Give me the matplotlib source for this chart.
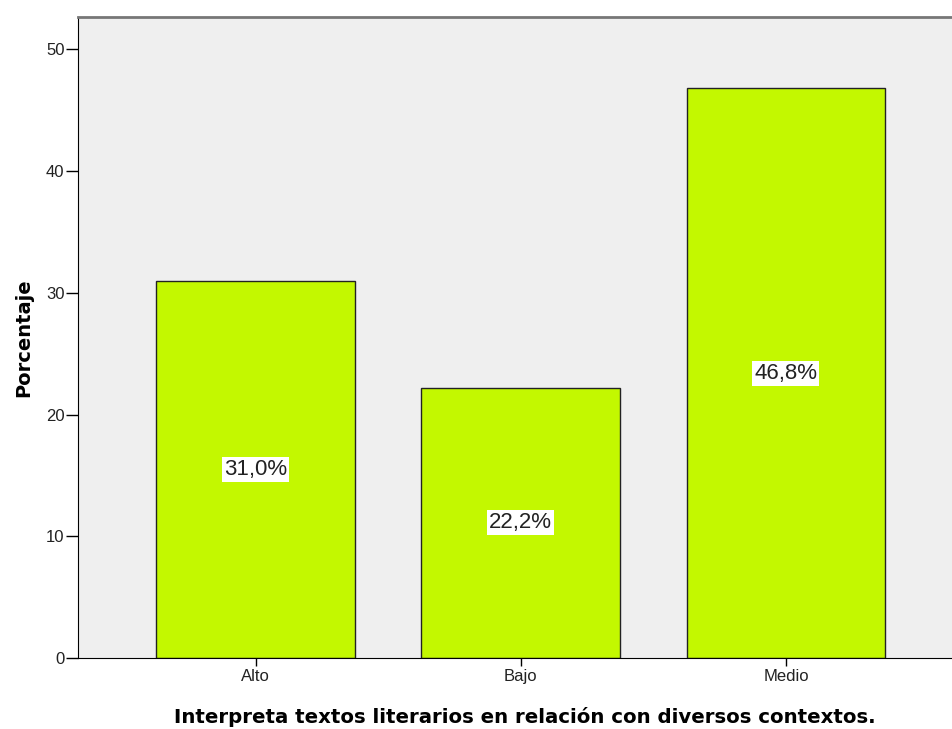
import matplotlib
matplotlib.use("Agg")
import matplotlib.pyplot as plt

categories = ["Alto", "Bajo", "Medio"]
percentages = [31.0, 22.2, 46.8]
bar_labels = ["31,0%", "22,2%", "46,8%"]
y_ticks = [0, 10, 20, 30, 40, 50]

fig = plt.figure(figsize=(9.53, 7.29), dpi=100)
ax = fig.add_axes([0.0818, 0.0974, 0.9182, 0.8799])
ax.set_facecolor("#efefef")

x = range(len(categories))
bars = ax.bar(x, percentages, width=0.75, color="#c3f800",
              edgecolor="#222222", linewidth=1.0, zorder=2)

# labels in the middle of each bar, white box
for rect, lab in zip(bars, bar_labels):
    ax.text(rect.get_x() + rect.get_width() / 2, rect.get_height() / 2, lab,
            ha="center", va="center", fontsize=16, family="Liberation Sans",
            color="#222222", zorder=3,
            bbox=dict(facecolor="white", edgecolor="none", pad=1.5))

ax.set_xlim(-0.67, 2.63)
ax.set_ylim(0, 52.7)
ax.set_xticks(list(x))
ax.set_xticklabels(categories, family="Liberation Sans", fontsize=12, color="#222222")
ax.set_yticks(y_ticks)
ax.set_yticklabels([str(t) for t in y_ticks], family="Liberation Sans",
                   fontsize=12, color="#222222")
ax.tick_params(axis="y", length=8.6, width=1, pad=1)
ax.tick_params(axis="x", length=5.4, width=1, pad=2.5)

ax.spines["right"].set_visible(False)
ax.spines["top"].set_color("#777777")
ax.spines["top"].set_linewidth(2)
ax.spines["left"].set_color("black")
ax.spines["bottom"].set_color("black")

ax.set_ylabel("Porcentaje", fontsize=14, fontweight="bold")
ax.yaxis.set_label_coords(-0.051, 0.5)
ax.set_xlabel("Interpreta textos literarios en relación con diversos contextos.",
              fontsize=14.2, fontweight="bold")
ax.xaxis.set_label_coords(0.511, -0.076)

fig.savefig("out.png", dpi=100)
